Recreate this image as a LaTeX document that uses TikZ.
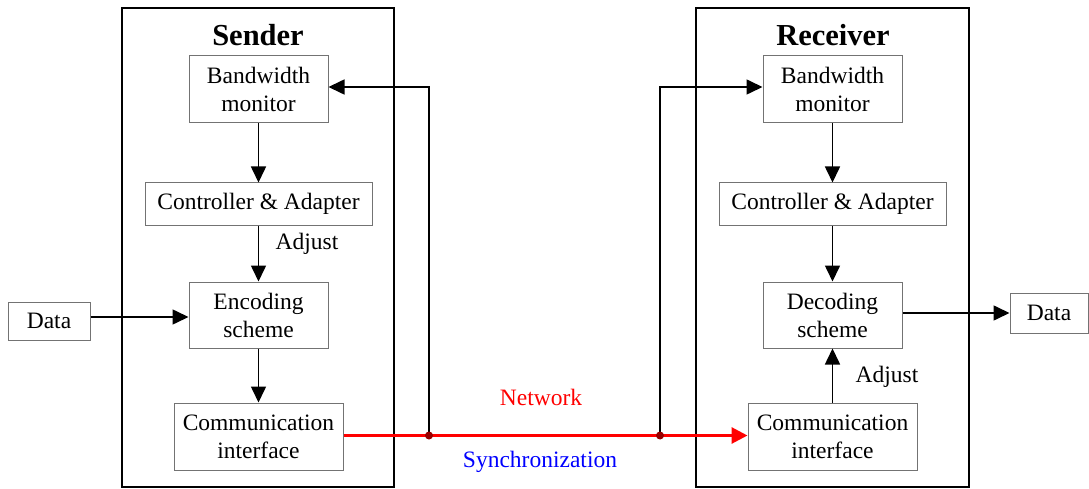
\documentclass[tikz,border=0pt]{standalone}
\usepackage{fontspec}
\setmainfont{Liberation Serif}
\usetikzlibrary{arrows.meta}
\begin{document}
\begin{tikzpicture}[x=1pt,y=-1pt,
  txt/.style={font=\fontsize{23.5}{28}\selectfont},
  block/.style={txt,draw=black!55,line width=1pt,align=center,inner sep=0pt},
  party/.style={draw=black,line width=2.2pt,inner sep=0pt},
  title/.style={font=\fontsize{30.5}{34}\selectfont\bfseries},
  flow/.style={line width=1.6pt,-{Triangle[length=16pt,width=15pt]}},
  net/.style={red,line width=3pt,-{Triangle[length=16pt,width=16pt]}},
  junction/.style={circle,fill=red!60!black,inner sep=0pt,minimum size=8pt}]
\useasboundingbox (0,0) rectangle (1089,489);

% sender side
\node[party,minimum width=272pt,minimum height=479pt] (sender) at (258,247.5) {};
\node[title] (stitle) at (258,35) {Sender};
\node[block,minimum width=139pt,minimum height=67pt] (sbw) at (258.5,89.5) {Bandwidth\\monitor};
\node[block,minimum width=227pt,minimum height=42pt] (sctl) at (258.5,204) {Controller \& Adapter};
\node[block,minimum width=139pt,minimum height=66pt] (senc) at (258.5,315) {Encoding\\scheme};
\node[block,minimum width=169pt,minimum height=67pt] (scom) at (258.5,436.5) {Communication\\interface};
\node[block,minimum width=82pt,minimum height=38pt] (sdata) at (49,321) {Data};

% receiver side
\node[party,minimum width=273pt,minimum height=479pt] (receiver) at (832.5,247.5) {};
\node[title] (rtitle) at (833,35) {Receiver};
\node[block,minimum width=139pt,minimum height=67pt] (rbw) at (832.5,89.5) {Bandwidth\\monitor};
\node[block,minimum width=227pt,minimum height=42pt] (rctl) at (832.5,204) {Controller \& Adapter};
\node[block,minimum width=139pt,minimum height=66pt] (rdec) at (832.5,315) {Decoding\\scheme};
\node[block,minimum width=169pt,minimum height=67pt] (rcom) at (832.5,436.5) {Communication\\interface};
\node[block,minimum width=78pt,minimum height=40pt] (rdata) at (1049,313) {Data};

% sender flow
\draw[flow] (sbw) -- (sctl);
\draw[flow] (sctl) -- (senc);
\draw[flow] (senc) -- (scom);
\draw[flow] ([yshift=4pt]sdata.east) -- ([yshift=4pt]sdata.east -| senc.west);
\node[txt] (sadj) at (307,244) {Adjust};

% receiver flow
\draw[flow] (rbw) -- (rctl);
\draw[flow] (rctl) -- (rdec);
\draw[flow] (rcom) -- (rdec);
\draw[flow] (rdec.east |- rdata.west) -- (rdata.west);
\node[txt] (radj) at (887,377) {Adjust};

% network link with synchronization taps
\coordinate (j1) at (429,435.5);
\coordinate (j2) at (660,435.5);
\draw[flow] (j1) |- ([yshift=2.5pt]sbw.east);
\draw[flow] (j2) |- ([yshift=2.5pt]rbw.west);
\draw[net] (scom.east |- j1) -- (rcom.west |- j1);
\node[junction] (d1) at (j1) {};
\node[junction] (d2) at (j2) {};
\node[txt,text=red] (netlbl) at (541,397) {Network};
\node[txt,text=blue] (synclbl) at (540,462) {Synchronization};
\end{tikzpicture}
\end{document}
